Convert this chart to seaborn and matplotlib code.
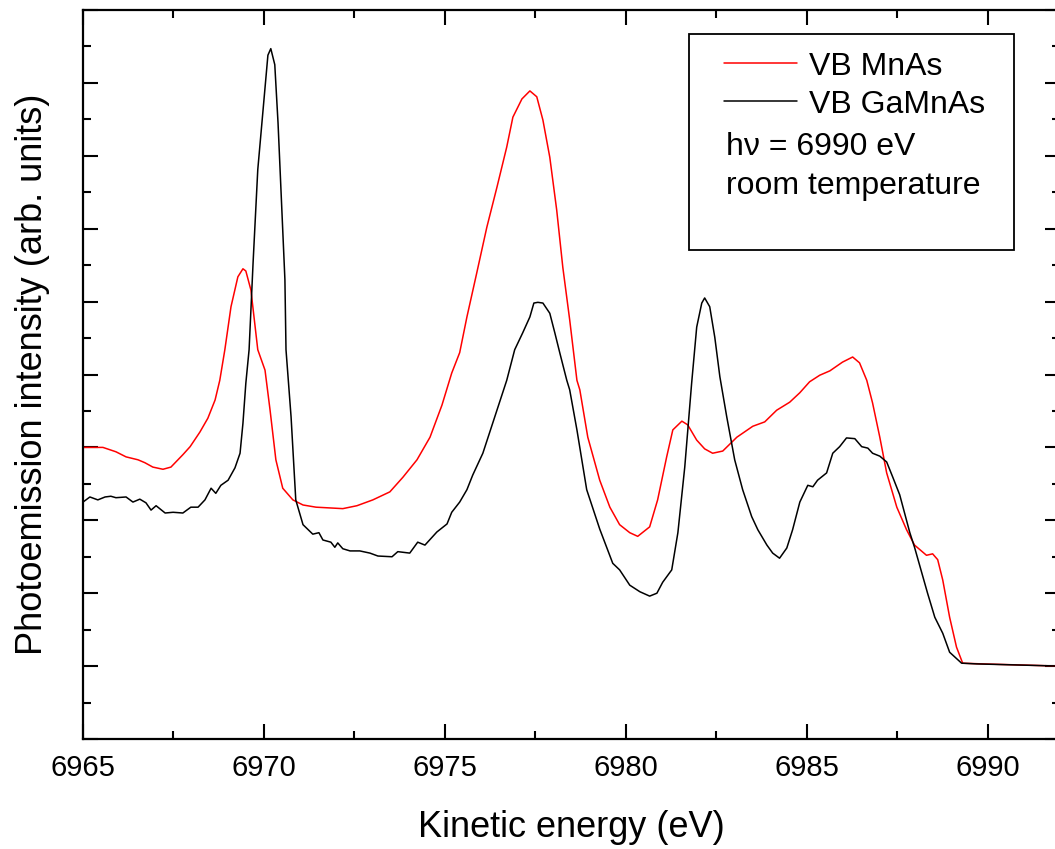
import numpy as np
import pandas as pd
import matplotlib
matplotlib.use("Agg")
import matplotlib.pyplot as plt
from matplotlib.patches import Rectangle
from matplotlib.ticker import MultipleLocator, NullFormatter
import seaborn as sns

# values
mnas_energy = [6965.00, 6965.55, 6965.91, 6966.19, 6966.52, 6966.71, 6966.93, 6967.21, 6967.43, 6967.76,
               6967.96, 6968.23, 6968.45, 6968.65, 6968.78, 6968.92, 6969.09, 6969.28, 6969.42, 6969.50,
               6969.64, 6969.83, 6970.03, 6970.17, 6970.33, 6970.52, 6970.80, 6971.08, 6971.44, 6972.18,
               6972.57, 6973.01, 6973.48, 6973.84, 6974.23, 6974.59, 6974.92, 6975.19, 6975.41, 6975.61,
               6975.88, 6976.16, 6976.44, 6976.71, 6976.88, 6977.13, 6977.35, 6977.54, 6977.71, 6977.90,
               6978.09, 6978.26, 6978.45, 6978.65, 6978.73, 6978.95, 6979.28, 6979.56, 6979.83, 6980.11,
               6980.33, 6980.66, 6980.88, 6981.13, 6981.30, 6981.55, 6981.71, 6981.96, 6982.18, 6982.40,
               6982.68, 6983.07, 6983.51, 6983.84, 6984.17, 6984.53, 6984.81, 6985.08, 6985.36, 6985.64,
               6985.99, 6986.27, 6986.46, 6986.66, 6986.82, 6987.02, 6987.21, 6987.49, 6987.76, 6987.98,
               6988.31, 6988.48, 6988.62, 6988.76, 6988.95, 6989.14, 6989.31, 6989.86, 6992.00]
mnas_intensity = [4.00, 4.00, 3.94, 3.87, 3.83, 3.79, 3.73, 3.70, 3.73, 3.90,
                  4.01, 4.21, 4.40, 4.65, 4.92, 5.34, 5.93, 6.34, 6.45, 6.42,
                  6.16, 5.34, 5.06, 4.51, 3.83, 3.44, 3.28, 3.21, 3.18, 3.16,
                  3.20, 3.28, 3.39, 3.59, 3.83, 4.14, 4.58, 5.02, 5.30, 5.79,
                  6.39, 7.02, 7.57, 8.12, 8.53, 8.78, 8.89, 8.81, 8.49, 7.98,
                  7.26, 6.47, 5.75, 4.92, 4.79, 4.14, 3.55, 3.18, 2.94, 2.83,
                  2.78, 2.91, 3.28, 3.87, 4.24, 4.36, 4.31, 4.10, 3.98, 3.92,
                  3.95, 4.14, 4.29, 4.35, 4.51, 4.62, 4.75, 4.90, 4.99, 5.05,
                  5.17, 5.24, 5.16, 4.92, 4.61, 4.14, 3.65, 3.18, 2.87, 2.66,
                  2.52, 2.54, 2.46, 2.18, 1.67, 1.26, 1.04, 1.03, 1.00]

gamnas_energy = [6965.00, 6965.19, 6965.41, 6965.61, 6965.77, 6965.91, 6966.19, 6966.38, 6966.57, 6966.74,
                 6966.88, 6967.02, 6967.27, 6967.49, 6967.76, 6967.98, 6968.18, 6968.37, 6968.54, 6968.67,
                 6968.81, 6969.01, 6969.20, 6969.34, 6969.42, 6969.50, 6969.59, 6969.70, 6969.83, 6969.97,
                 6970.11, 6970.19, 6970.30, 6970.39, 6970.47, 6970.58, 6970.61, 6970.75, 6970.88, 6971.08,
                 6971.35, 6971.52, 6971.63, 6971.85, 6971.96, 6972.04, 6972.18, 6972.38, 6972.65, 6972.93,
                 6973.15, 6973.54, 6973.70, 6974.03, 6974.25, 6974.45, 6974.78, 6975.06, 6975.19, 6975.41,
                 6975.61, 6975.77, 6976.05, 6976.44, 6976.71, 6976.93, 6977.15, 6977.35, 6977.46, 6977.57,
                 6977.71, 6977.90, 6978.04, 6978.18, 6978.37, 6978.45, 6978.65, 6978.92, 6979.28, 6979.48,
                 6979.64, 6979.83, 6980.11, 6980.39, 6980.66, 6980.86, 6981.02, 6981.27, 6981.44, 6981.63,
                 6981.82, 6981.96, 6982.10, 6982.18, 6982.32, 6982.46, 6982.60, 6982.79, 6983.01, 6983.23,
                 6983.48, 6983.65, 6983.90, 6984.06, 6984.25, 6984.45, 6984.61, 6984.81, 6985.03, 6985.17,
                 6985.30, 6985.55, 6985.72, 6985.91, 6986.10, 6986.33, 6986.52, 6986.69, 6986.82, 6987.02,
                 6987.21, 6987.38, 6987.57, 6987.85, 6987.98, 6988.18, 6988.34, 6988.54, 6988.76, 6988.95,
                 6989.28, 6989.70, 6992.00]
gamnas_intensity = [3.25, 3.32, 3.28, 3.32, 3.33, 3.31, 3.32, 3.25, 3.29, 3.24,
                    3.14, 3.20, 3.10, 3.11, 3.10, 3.18, 3.18, 3.28, 3.44, 3.37,
                    3.48, 3.55, 3.72, 3.92, 4.33, 4.88, 5.34, 6.53, 7.81, 8.59,
                    9.38, 9.47, 9.25, 8.45, 7.53, 6.30, 5.34, 4.42, 3.28, 2.94,
                    2.81, 2.83, 2.73, 2.70, 2.63, 2.69, 2.61, 2.58, 2.58, 2.55,
                    2.51, 2.50, 2.57, 2.55, 2.70, 2.66, 2.84, 2.95, 3.11, 3.25,
                    3.42, 3.62, 3.92, 4.51, 4.92, 5.34, 5.57, 5.79, 5.98, 5.99,
                    5.98, 5.84, 5.57, 5.29, 4.92, 4.79, 4.24, 3.42, 2.88, 2.62,
                    2.41, 2.32, 2.11, 2.02, 1.96, 2.00, 2.15, 2.32, 2.83, 3.73,
                    4.88, 5.65, 5.98, 6.05, 5.93, 5.51, 4.97, 4.42, 3.83, 3.42,
                    3.05, 2.87, 2.66, 2.55, 2.48, 2.62, 2.87, 3.25, 3.48, 3.46,
                    3.55, 3.65, 3.92, 4.01, 4.13, 4.12, 4.01, 3.99, 3.92, 3.88,
                    3.80, 3.59, 3.35, 2.83, 2.63, 2.28, 2.00, 1.67, 1.45, 1.19,
                    1.04, 1.03, 1.00]

df = pd.concat([
    pd.DataFrame({"energy": mnas_energy, "intensity": mnas_intensity, "sample": "VB MnAs"}),
    pd.DataFrame({"energy": gamnas_energy, "intensity": gamnas_intensity, "sample": "VB GaMnAs"}),
], ignore_index=True)

sns.set_style("ticks")
plt.rcParams["font.family"] = ["Liberation Sans", "DejaVu Sans"]
plt.rcParams["text.color"] = "black"
plt.rcParams["axes.labelcolor"] = "black"
plt.rcParams["xtick.color"] = "black"
plt.rcParams["ytick.color"] = "black"

fig = plt.figure(figsize=(10.55, 8.49), dpi=100)
ax = fig.add_axes([83 / 1055, 110 / 849, 977 / 1055, 729 / 849])

sns.lineplot(data=df, x="energy", y="intensity", hue="sample",
             palette={"VB MnAs": "#ff0000", "VB GaMnAs": "black"},
             estimator=None, sort=False, linewidth=1.1, ax=ax)

ax.set_xlim(6965, 6992)
ax.set_ylim(0, 10)
ax.xaxis.set_major_locator(MultipleLocator(5))
ax.xaxis.set_minor_locator(MultipleLocator(2.5))
ax.yaxis.set_major_locator(MultipleLocator(1))
ax.yaxis.set_minor_locator(MultipleLocator(0.5))
ax.yaxis.set_major_formatter(NullFormatter())
ax.tick_params(which="both", direction="in", top=True, right=True, width=1.5, color="black")
ax.tick_params(which="major", length=10.5, labelsize=21, pad=11, labelcolor="black")
ax.tick_params(which="minor", length=5.5)
for s in ax.spines.values():
    s.set_linewidth(1.6)
    s.set_color("black")

ax.set_xlabel("Kinetic energy (eV)", fontsize=26, labelpad=20, color="black")
ax.set_ylabel("Photoemission intensity (arb. units)", fontsize=26, labelpad=13, color="black")

# legend box with the two series plus the measurement notes
leg = ax.legend(loc="upper left", bbox_to_anchor=(0.656, 0.943), frameon=False,
                fontsize=23, handlelength=2.3, handletextpad=0.35, labelspacing=0.25,
                borderaxespad=0, borderpad=0)
for t in leg.get_texts():
    t.set_color("black")
ax.add_patch(Rectangle((0.620, 0.671), 0.333, 0.296, transform=ax.transAxes,
                       fill=False, edgecolor="black", linewidth=1.3, zorder=5))
ax.text(0.658, 0.812, "h\u03bd = 6990 eV", transform=ax.transAxes, fontsize=23, va="center")
ax.text(0.658, 0.759, "room temperature", transform=ax.transAxes, fontsize=23, va="center")

fig.savefig("out.png", dpi=100)
